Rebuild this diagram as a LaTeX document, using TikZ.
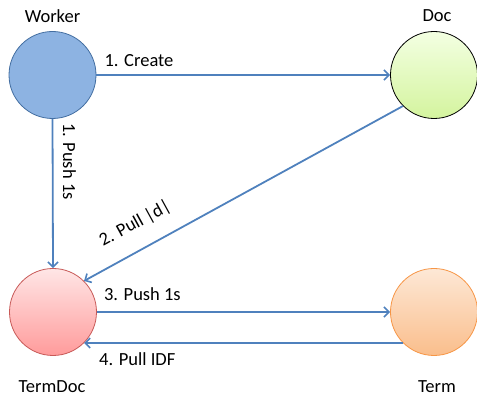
\documentclass[tikz,border=0pt]{standalone}
\usepackage{fontspec}
\setmainfont{Carlito}
\usetikzlibrary{arrows.meta}
\definecolor{linkblue}{RGB}{79,129,189}
\tikzset{
  ball/.style={circle,minimum size=87pt,inner sep=0pt,line width=0.8pt},
  flow/.style={draw=linkblue,line width=1.8pt,-{Straight Barb[length=5pt,width=10pt,line width=1.6pt]}},
  txt/.style={inner sep=0pt,font=\fontsize{18.5}{22}\selectfont}
}
\begin{document}
\begin{tikzpicture}[x=1pt,y=1pt]
      \useasboundingbox (0,0) rectangle (477,401);
      % the four actors
      \node[ball,draw=linkblue!85!black,fill={rgb,255:red,141;green,179;blue,226}] (worker) at (52.5,326) {};
      \node[ball,draw=black,top color={rgb,255:red,243;green,255;blue,226},bottom color={rgb,255:red,212;green,244;blue,158}] (doc) at (434,326) {};
      \node[ball,draw={rgb,255:red,200;green,90;blue,88},top color={rgb,255:red,255;green,230;blue,230},bottom color={rgb,255:red,255;green,155;blue,155}] (termdoc) at (53,89) {};
      \node[ball,draw={rgb,255:red,247;green,150;blue,70},top color={rgb,255:red,253;green,232;blue,214},bottom color={rgb,255:red,250;green,190;blue,140}] (term) at (434,89) {};
      \node[txt] (workername) at (52.5,385) {Worker};
      \node[txt] (docname) at (437,385) {Doc};
      \node[txt] (termdocname) at (52,14) {TermDoc};
      \node[txt] (termname) at (437,14) {Term};
      % messages
      \draw[flow] (worker.east) -- (doc.west);
      \draw[flow] (worker.south) -- (termdoc.north);
      \draw[flow] (doc.225) -- (termdoc.45);
      \draw[flow] (termdoc.east) -- (term.west);
      \draw[flow] (term.225) -- (termdoc.-45);
      \node[txt,anchor=base west] (createlbl) at ([shift={(8,8)}]worker.east) {1. Create};
      \node[txt,anchor=base west,rotate=-90] (pushlbl) at ([shift={(10.5,-4)}]worker.south) {1. Push 1s};
      \node[txt,anchor=base west,rotate=28.7] (pulldlbl) at (103,154) {2. Pull |d|};
      \node[txt,anchor=base west] (pushtlbl) at ([shift={(7,11)}]termdoc.east) {3. Push 1s};
      \node[txt,anchor=base west] (idflbl) at ([shift={(15,-22)}]termdoc.-45) {4. Pull IDF};
\end{tikzpicture}
\end{document}
